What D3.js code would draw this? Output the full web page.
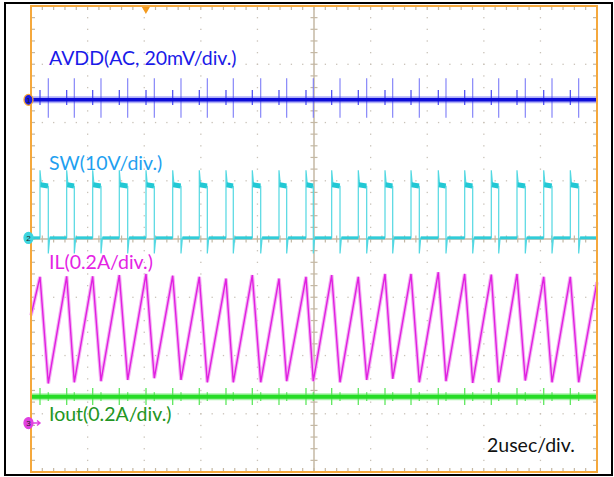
<!DOCTYPE html>
<html><head><meta charset="utf-8">
<script src="https://cdn.jsdelivr.net/npm/d3@7/dist/d3.min.js"></script>
<style>body{margin:0;background:#fff}svg{display:block}</style>
</head><body>
<svg id="c" width="614" height="477"></svg>
<script>
// ---------------- data ----------------
// time in µs (2 µs/div, 10 div), vertical values in screen divisions (8 div, centre = 0)
const timeDomain = [0, 20];
const divDomain = [-4, 4];
// switching instants (SW rising edge = IL peak, SW falling edge = IL valley)
const swRiseT = [0.318,1.261,2.180,3.120,4.064,5.007,5.947,6.890,7.820,8.763,9.717,10.625,11.565,12.509,13.428,14.392,15.325,16.265,17.173,18.117,19.057];
const swFallT = [0.611,1.530,2.473,3.417,4.357,5.300,6.230,7.148,8.117,9.035,9.975,10.919,11.862,12.781,13.721,14.664,15.608,16.527,17.466,18.410,19.353];
// inductor current peaks / valleys (div)
const ilPeak = [-0.65,-0.64,-0.64,-0.62,-0.60,-0.63,-0.65,-0.68,-0.62,-0.68,-0.65,-0.62,-0.65,-0.60,-0.60,-0.57,-0.60,-0.61,-0.60,-0.65,-0.65];
const ilValley = [-2.48,-2.46,-2.44,-2.42,-2.39,-2.42,-2.46,-2.46,-2.46,-2.44,-2.44,-2.46,-2.42,-2.40,-2.46,-2.44,-2.47,-2.46,-2.43,-2.46,-2.46];
const ilEnds = [-1.31, -0.74];            // value at left and right screen edge
// SW levels: low, high, overshoot at turn-on, undershoot at turn-off
const swLevels = [0.02, 0.91, 1.18, -0.25];
// AVDD (AC) trace level and spikes at turn-on / turn-off
const avddLevel = 2.39;
const avddSpikeRise = [0.17, -0.09];
const avddSpikeFall = [0.37, -0.31];
// Iout trace level and spikes
const ioutLevel = -2.71;
const ioutSpikeRise = [0.15, -0.14];
const ioutSpikeFall = [0.08, -0.07];
// channel ground markers and trigger position
const chMarkers = [["1", 2.39], ["2", 0.02], ["3", -3.16]];
const triggerT = 4.06;
const labels = ["AVDD(AC, 20mV/div.)", "SW(10V/div.)", "IL(0.2A/div.)", "Iout(0.2A/div.)"];
const timebaseLabel = "2usec/div.";

// ---------------- drawing ----------------
const svg = d3.select("#c");
const L = 31, R = 597, T = 6, B = 472;
const x = d3.scaleLinear().domain(timeDomain).range([L, R]);
const y = d3.scaleLinear().domain(divDomain).range([B, T]);
const line = d3.line().x(d => x(d[0])).y(d => y(d[1]));

// outer black frame
svg.append("rect").attr("x", 5).attr("y", 3).attr("width", 607).attr("height", 472)
  .attr("fill", "#fff").attr("stroke", "#000").attr("stroke-width", 2);

const grid = svg.append("g");
const majorX = d3.range(0, 21, 2), minorX = d3.range(0, 20.01, 0.4);
const majorY = d3.range(-4, 5, 1), minorY = d3.range(-4, 4.01, 0.2);
const dotCol = "#c9c2b8", tickCol = "#c4b8a4";
// dotted grid
majorX.filter(v => v > 0 && v < 20 && v !== 10).forEach(v => {
  minorY.forEach(w => grid.append("rect").attr("x", x(v) - 0.6).attr("y", y(w) - 0.6)
    .attr("width", 1.3).attr("height", 1.3).attr("fill", dotCol));
});
majorY.filter(v => v > -4 && v < 4 && v !== 0).forEach(v => {
  minorX.forEach(w => grid.append("rect").attr("x", x(w) - 0.6).attr("y", y(v) - 0.6)
    .attr("width", 1.3).attr("height", 1.3).attr("fill", dotCol));
});
// centre cross with minor ticks
grid.append("line").attr("x1", x(10)).attr("x2", x(10)).attr("y1", T).attr("y2", B)
  .attr("stroke", tickCol).attr("stroke-width", 1.5);
grid.append("line").attr("x1", L).attr("x2", R).attr("y1", y(0)).attr("y2", y(0))
  .attr("stroke", tickCol).attr("stroke-width", 1.5);
minorY.forEach(w => {
  grid.append("line").attr("x1", x(10) - 3.5).attr("x2", x(10) + 3.5).attr("y1", y(w)).attr("y2", y(w))
    .attr("stroke", tickCol).attr("stroke-width", 1.2);
  grid.append("line").attr("x1", L).attr("x2", L + 4).attr("y1", y(w)).attr("y2", y(w))
    .attr("stroke", tickCol).attr("stroke-width", 1.2);
  grid.append("line").attr("x1", R - 4).attr("x2", R).attr("y1", y(w)).attr("y2", y(w))
    .attr("stroke", tickCol).attr("stroke-width", 1.2);
});
minorX.forEach(w => {
  grid.append("line").attr("y1", y(0) - 3.5).attr("y2", y(0) + 3.5).attr("x1", x(w)).attr("x2", x(w))
    .attr("stroke", tickCol).attr("stroke-width", 1.2);
  grid.append("line").attr("y1", T).attr("y2", T + 4).attr("x1", x(w)).attr("x2", x(w))
    .attr("stroke", tickCol).attr("stroke-width", 1.2);
  grid.append("line").attr("y1", B - 4).attr("y2", B).attr("x1", x(w)).attr("x2", x(w))
    .attr("stroke", tickCol).attr("stroke-width", 1.2);
});

// ----- AVDD (blue) -----
const tr = svg.append("g");
swRiseT.forEach(t => tr.append("line").attr("x1", x(t)).attr("x2", x(t))
  .attr("y1", y(avddLevel + avddSpikeRise[0])).attr("y2", y(avddLevel + avddSpikeRise[1]))
  .attr("stroke", "#4848f2").attr("stroke-width", 1.2));
swFallT.forEach(t => tr.append("line").attr("x1", x(t)).attr("x2", x(t))
  .attr("y1", y(avddLevel + avddSpikeFall[0])).attr("y2", y(avddLevel + avddSpikeFall[1]))
  .attr("stroke", "#7b7bf8").attr("stroke-width", 1.1));
tr.append("path").attr("d", line([[timeDomain[0], avddLevel], [timeDomain[1], avddLevel]]))
  .attr("stroke", "#3a3af0").attr("stroke-opacity", 0.4).attr("stroke-width", 7).attr("fill", "none");
tr.append("path").attr("d", line([[timeDomain[0], avddLevel], [timeDomain[1], avddLevel]]))
  .attr("stroke", "#0c0cd8").attr("stroke-width", 3.6).attr("fill", "none");

// ----- SW (cyan) -----
const [swLow, swHigh, swOver, swUnder] = swLevels;
const settle = 0.05;
const swPts = [[timeDomain[0], swLow]];
swRiseT.forEach((t, i) => {
  const f = swFallT[i];
  swPts.push([t, swLow], [t, swOver], [t + settle, swHigh], [f, swHigh], [f, swUnder], [f + settle, swLow]);
});
swPts.push([timeDomain[1], swLow]);
tr.append("path").attr("d", line(swPts)).attr("stroke", "#52d8e2").attr("stroke-width", 1.2)
  .attr("fill", "none").attr("stroke-linejoin", "bevel");
swRiseT.forEach((t, i) => {
  tr.append("path").attr("d", line([[t + 0.02, swHigh + 0.02], [swFallT[i] - 0.01, swHigh]]))
    .attr("stroke", "#22c8d4").attr("stroke-width", 5).attr("fill", "none");
});
const lows = [[timeDomain[0] + 0.05, swRiseT[0]]];
swFallT.forEach((f, i) => lows.push([f + settle, i + 1 < swRiseT.length ? swRiseT[i + 1] : timeDomain[1]]));
lows.forEach(s => tr.append("path").attr("d", line([[s[0], swLow], [s[1], swLow]]))
  .attr("stroke", "#30ccd8").attr("stroke-width", 3).attr("fill", "none"));

// ----- IL (magenta) -----
const ilPts = [[timeDomain[0], ilEnds[0]]];
swRiseT.forEach((t, i) => ilPts.push([t, ilPeak[i]], [swFallT[i], ilValley[i]]));
ilPts.push([timeDomain[1], ilEnds[1]]);
tr.append("path").attr("d", line(ilPts)).attr("stroke", "#f4b0f4").attr("stroke-width", 3.6)
  .attr("fill", "none");
tr.append("path").attr("d", line(ilPts)).attr("stroke", "#e020e0").attr("stroke-width", 1.4)
  .attr("fill", "none");

// ----- Iout (green) -----
swRiseT.forEach(t => tr.append("line").attr("x1", x(t)).attr("x2", x(t))
  .attr("y1", y(ioutLevel + ioutSpikeRise[0])).attr("y2", y(ioutLevel + ioutSpikeRise[1]))
  .attr("stroke", "#5ee85e").attr("stroke-width", 1.3));
swFallT.forEach(t => tr.append("line").attr("x1", x(t)).attr("x2", x(t))
  .attr("y1", y(ioutLevel + ioutSpikeFall[0])).attr("y2", y(ioutLevel + ioutSpikeFall[1]))
  .attr("stroke", "#5ee85e").attr("stroke-width", 1.3));
tr.append("path").attr("d", line([[timeDomain[0], ioutLevel], [timeDomain[1], ioutLevel]]))
  .attr("stroke", "#5ee85e").attr("stroke-opacity", 0.55).attr("stroke-width", 7).attr("fill", "none");
tr.append("path").attr("d", line([[timeDomain[0], ioutLevel], [timeDomain[1], ioutLevel]]))
  .attr("stroke", "#26dc26").attr("stroke-width", 4).attr("fill", "none");

// orange graticule frame
svg.append("rect").attr("x", L).attr("y", T).attr("width", R - L).attr("height", B - T)
  .attr("fill", "none").attr("stroke", "#f5a83c").attr("stroke-width", 2);

// trigger marker
const tx = x(triggerT);
svg.append("path").attr("d", `M${tx - 4},${T + 1}L${tx + 4},${T + 1}L${tx},${T + 8}Z`).attr("fill", "#f39a1e");

// channel markers
const mCols = [["#1a1ae0", "#f5a83c"], ["#3cd4de", "#3cd4de"], ["#e040e0", "#e040e0"]];
chMarkers.forEach((m, i) => {
  const cy = y(m[1]);
  if (i === 2) svg.append("path").attr("d", `M33,${cy}L39,${cy}M37,${cy - 2.5}L40,${cy}L37,${cy + 2.5}`)
    .attr("stroke", "#e040e0").attr("stroke-width", 1.4).attr("fill", "none");
  svg.append("ellipse").attr("cx", 28.5).attr("cy", cy).attr("rx", 4.5).attr("ry", 5.5)
    .attr("fill", mCols[i][0]).attr("stroke", mCols[i][1]).attr("stroke-width", 1.3);
  svg.append("text").attr("x", 28.5).attr("y", cy + 3).attr("text-anchor", "middle")
    .attr("font-family", "Liberation Sans, Arial, sans-serif").attr("font-size", 8)
    .attr("fill", "#222").text(m[0]);
});

// labels
const font = "Lato, 'Open Sans', sans-serif";
const lab = [[labels[0], 49, 65, "#1a1ae8"], [labels[1], 49, 170, "#1ea0f0"],
             [labels[2], 49, 269, "#e424e4"], [labels[3], 49, 421, "#239623"]];
lab.forEach(l => svg.append("text").attr("x", l[1]).attr("y", l[2]).attr("fill", l[3])
  .attr("font-family", font).attr("font-size", 19.5).text(l[0]));
svg.append("text").attr("x", 487).attr("y", 452).attr("fill", "#111")
  .attr("font-family", font).attr("font-size", 19.5).text(timebaseLabel);
</script>
</body></html>
